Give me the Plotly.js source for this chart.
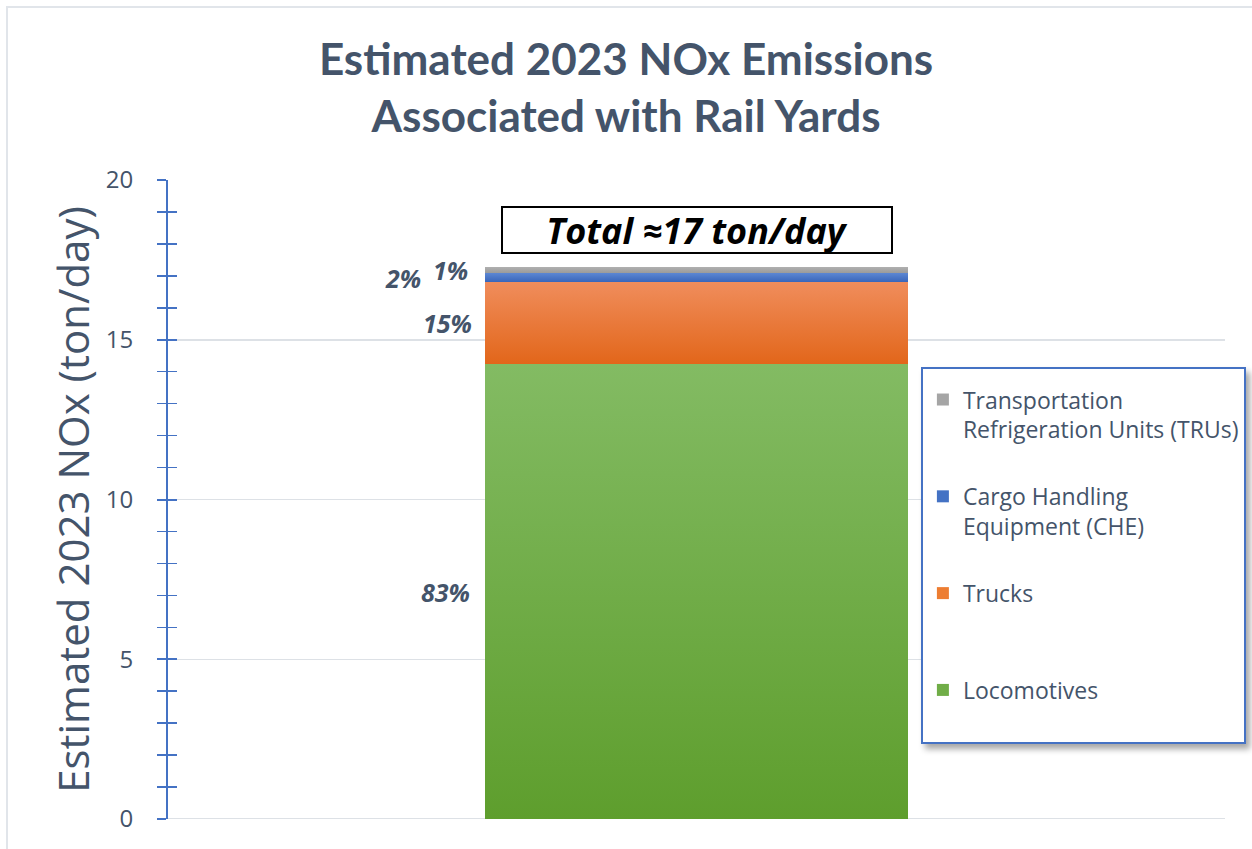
<!DOCTYPE html>
<html>
<head>
<meta charset="utf-8">
<script src="https://cdn.plot.ly/plotly-3.0.1.min.js"></script>
<style>
  html, body { margin: 0; padding: 0; background: #ffffff; }
  #frame { position: absolute; left: 6px; top: 6px; width: 1400px; height: 1000px;
           border-left: 2px solid #E1E5EA; border-top: 2px solid #E1E5EA; }
  #chart { position: absolute; left: 0; top: 0; width: 1252px; height: 849px; }
</style>
</head>
<body>
<div id="frame"></div>
<div id="chart"></div>
<script>
// ---- data ----
const categories = ['2023'];
const seriesNames = [
  'Locomotives',
  'Trucks',
  'Cargo Handling<br>Equipment (CHE)',
  'Transportation<br>Refrigeration Units (TRUs)'
];
const locomotives = [14.24];
const trucks = [2.57];
const che = [0.27];
const trus = [0.20];
const shareLabels = ['83%', '15%', '2%', '1%'];
const totalLabel = 'Total ≈17 ton/day';

// ---- styles ----
const seriesValues = [locomotives, trucks, che, trus];
const baseColors = ['#70AD47', '#ED7D31', '#4472C4', '#A5A5A5'];
const gradStops = [
  ['#83BB63', '#5E9E2D'],
  ['#F08D5C', '#E2661A'],
  ['#5B86D2', '#3A66BA'],
  ['#B0B0B0', '#9A9A9A']
];
const legendNames = seriesNames.map((n, i) => (i < 2 ? n + '<br>\u00a0' : n));
const labelShift = [-13, -11, -62, -15];
const textColor = '#44546A';
const barWidth = 0.4;

const traces = seriesValues.map((vals, i) => ({
  type: 'bar',
  x: categories,
  y: vals,
  name: legendNames[i],
  legendgroup: 'g' + i,
  legendrank: seriesValues.length - i,
  width: barWidth,
  marker: { color: baseColors[i], line: { width: 0 } },
  hoverinfo: 'skip'
}));
traces.push({ type: 'scatter', x: categories, y: [null], yaxis: 'y2', showlegend: false, hoverinfo: 'skip', mode: 'markers' });

// percentage labels at segment midpoints
const annotations = [];
let base = 0;
seriesValues.forEach((vals, i) => {
  const v = vals[0];
  annotations.push({
    xref: 'x', yref: 'y', x: -barWidth / 2, y: base + v / 2,
    text: '<b><i>' + shareLabels[i] + '</i></b>',
    showarrow: false, xanchor: 'right', yanchor: 'middle', xshift: labelShift[i],
    font: { family: 'Open Sans', size: 25, color: textColor }
  });
  base += v;
});
annotations.push({
  xref: 'x', yref: 'y', x: 0, y: 18.42,
  text: '<b><i>' + totalLabel + '</i></b>',
  showarrow: false, xanchor: 'center', yanchor: 'middle',
  width: 388, height: 44, borderpad: 0,
  bordercolor: '#000000', borderwidth: 2, bgcolor: '#ffffff',
  font: { family: 'Open Sans', size: 36, color: '#000000' }
});

const tickStyle = { tickcolor: '#4472C4', tickwidth: 2, ticklen: 9 };

const layout = {
  width: 1252, height: 849,
  paper_bgcolor: 'rgba(0,0,0,0)', plot_bgcolor: 'rgba(0,0,0,0)',
  margin: { l: 168, r: 27, t: 180, b: 30, autoexpand: false },
  title: {
    text: '<b>Estimated 2023 NOx Emissions<br>Associated with Rail Yards</b>',
    font: { family: 'Lato', size: 44, color: textColor },
    x: 0.5, xanchor: 'center', y: 0.912, yanchor: 'middle', yref: 'container'
  },
  barmode: 'stack',
  showlegend: true,
  legend: {
    x: 0.7123, y: 0.7074, xanchor: 'left', yanchor: 'top',
    bgcolor: '#ffffff', bordercolor: '#4472C4', borderwidth: 2,
    font: { family: 'Open Sans', size: 23, color: textColor },
    title: { text: '\u00a0', font: { size: 7 } },
    traceorder: 'grouped', tracegroupgap: 34, valign: 'top'
  },
  xaxis: {
    type: 'category', range: [-0.5, 0.5], showticklabels: false, ticks: '',
    showgrid: false, zeroline: false, showline: false, fixedrange: true
  },
  yaxis: {
    range: [0, 20], dtick: 5, tick0: 0,
    ticks: 'outside', ...tickStyle,
    minor: { dtick: 1, ticks: 'outside', ticklen: 9, tickwidth: 1.5, tickcolor: '#4472C4', showgrid: false },
    showline: true, linecolor: '#4472C4', linewidth: 2,
    showgrid: true, gridcolor: '#DDE1E6', gridwidth: 1.5,
    zeroline: false,
    ticklabelstandoff: 19,
    tickfont: { family: 'Open Sans', size: 24, color: textColor },
    title: { text: 'Estimated 2023 NOx (ton/day)', font: { family: 'Open Sans', size: 42, color: textColor }, standoff: 3 }
  },
  yaxis2: {
    overlaying: 'y', side: 'left', anchor: 'x', range: [0, 20], dtick: 5, tick0: 0,
    ticks: 'inside', ...tickStyle,
    minor: { dtick: 1, ticks: 'inside', ticklen: 9, tickwidth: 1.5, tickcolor: '#4472C4' },
    showticklabels: false, showgrid: false, zeroline: false, showline: false
  },
  shapes: [{
    type: 'line', xref: 'paper', yref: 'y', x0: 0, x1: 1, y0: 0, y1: 0,
    line: { color: '#DDE1E6', width: 2 }, layer: 'below'
  }],
  annotations: annotations
};

Plotly.newPlot('chart', traces, layout, { displayModeBar: false, staticPlot: true }).then(gd => {
  const svg = gd.querySelector('.main-svg');
  const defs = svg.querySelector('defs');
  const NS = 'http://www.w3.org/2000/svg';
  gradStops.forEach((stops, i) => {
    const g = document.createElementNS(NS, 'linearGradient');
    g.setAttribute('id', 'barGrad' + i);
    g.setAttribute('x1', '0'); g.setAttribute('y1', '0');
    g.setAttribute('x2', '0'); g.setAttribute('y2', '1');
    stops.forEach((c, k) => {
      const s = document.createElementNS(NS, 'stop');
      s.setAttribute('offset', k === 0 ? '0' : '1');
      s.setAttribute('stop-color', c);
      g.appendChild(s);
    });
    defs.appendChild(g);
  });
  gd.querySelectorAll('.barlayer .trace').forEach((t, i) => {
    t.querySelectorAll('path').forEach(p => { p.style.fill = 'url(#barGrad' + i + ')'; });
  });
  // soft shadow under the legend box
  const f = document.createElementNS(NS, 'filter');
  f.setAttribute('id', 'legShadow');
  f.setAttribute('x', '-10%'); f.setAttribute('y', '-10%');
  f.setAttribute('width', '130%'); f.setAttribute('height', '130%');
  const ds = document.createElementNS(NS, 'feDropShadow');
  ds.setAttribute('dx', '4'); ds.setAttribute('dy', '5');
  ds.setAttribute('stdDeviation', '3');
  ds.setAttribute('flood-color', '#000'); ds.setAttribute('flood-opacity', '0.35');
  f.appendChild(ds);
  defs.appendChild(f);
  const bg = gd.querySelector('.legend rect.bg');
  if (bg) bg.setAttribute('filter', 'url(#legShadow)');
});
</script>
</body>
</html>
